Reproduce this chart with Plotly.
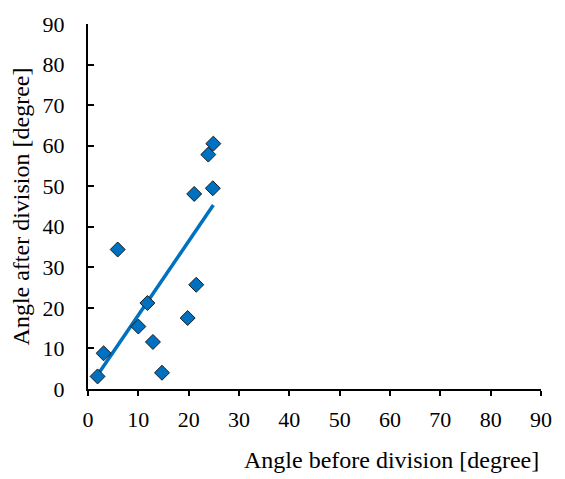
import numpy as np
import plotly.graph_objects as go

# Measured angles (degrees)
angle_before = [1.9, 3.1, 5.9, 10.0, 11.8, 12.9, 14.7, 19.8, 21.5, 21.1, 24.8, 23.9, 24.9]
angle_after = [3.1, 8.8, 34.4, 15.4, 21.2, 11.6, 4.0, 17.5, 25.7, 48.1, 49.5, 57.8, 60.5]
tick_values = [0, 10, 20, 30, 40, 50, 60, 70, 80, 90]

# Least-squares linear trend across the measured range
slope, intercept = np.polyfit(angle_before, angle_after, 1)
fit_x = np.array([min(angle_before), max(angle_before)])
fit_y = slope * fit_x + intercept

BLUE = "#0070C0"
FONT = "Liberation Serif"

fig = go.Figure()
fig.add_trace(go.Scatter(
    x=fit_x, y=fit_y, mode="lines",
    line=dict(color=BLUE, width=3.5),
    showlegend=False, hoverinfo="skip",
))
fig.add_trace(go.Scatter(
    x=angle_before, y=angle_after, mode="markers",
    marker=dict(symbol="diamond", size=11.5, color=BLUE,
                line=dict(color="#1a1a1a", width=1)),
    showlegend=False,
))

axis_common = dict(
    range=[0, 90], tickvals=tick_values, showgrid=False, zeroline=False,
    showline=True, linecolor="black", linewidth=2,
    tickcolor="black", tickwidth=2,
    tickfont=dict(family=FONT, size=22, color="black"),
    fixedrange=True,
)
fig.update_xaxes(**axis_common, ticks="outside", ticklen=5, ticklabelstandoff=5)
fig.update_yaxes(**axis_common, ticks="inside", ticklen=6, ticklabelstandoff=17)

fig.add_annotation(
    text="Angle before division [degree]", xref="paper", yref="paper",
    x=1.0, y=-0.195, xanchor="right", yanchor="middle", showarrow=False,
    font=dict(family=FONT, size=24, color="black"),
)
fig.add_annotation(
    text="Angle after division [degree]", xref="paper", yref="paper",
    x=-0.148, y=0.5, xanchor="center", yanchor="middle", textangle=-90,
    showarrow=False, font=dict(family=FONT, size=24, color="black"),
)

fig.update_layout(
    width=565, height=479,
    margin=dict(l=87.5, r=24, t=15, b=90),
    paper_bgcolor="white", plot_bgcolor="white",
    font=dict(family=FONT),
)

fig.write_html("out.html")
